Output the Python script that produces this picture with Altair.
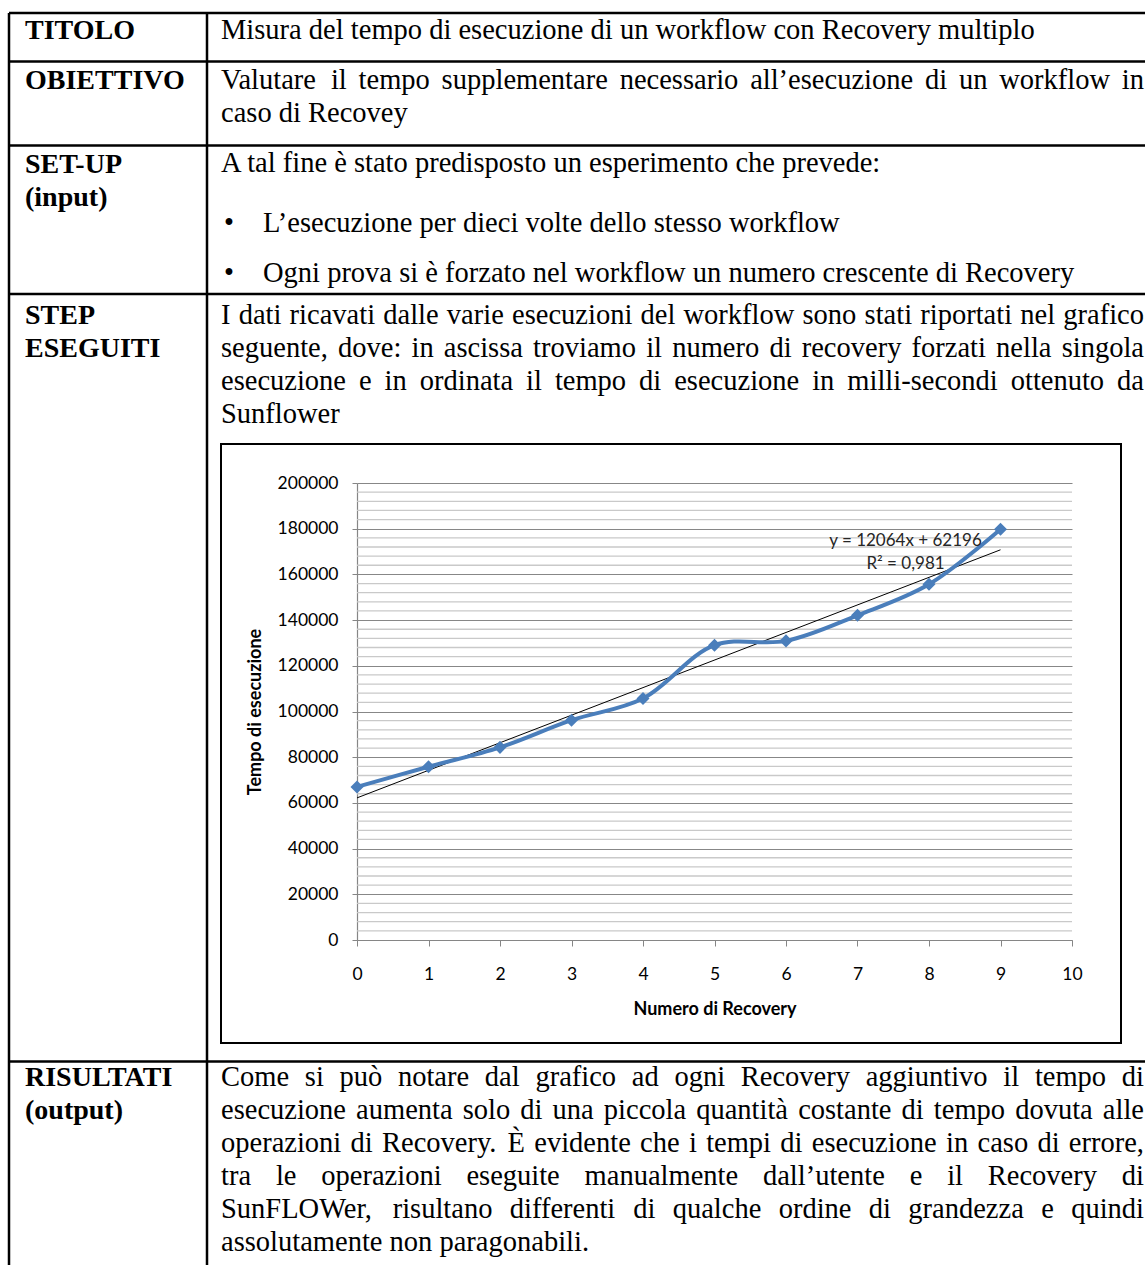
import altair as alt
import pandas as pd

# ---------------- chart values ----------------
recovery = list(range(10))
tempo_ms = [67000, 75800, 84300, 96200, 105700, 129000, 130900, 142100, 155700, 179800]
trend_slope = 12064
trend_intercept = 62196
trend_r2 = "0,981"
y_ticks = list(range(0, 200001, 20000))
y_minor = [v for v in range(0, 200001, 4000) if v % 20000]
x_ticks = list(range(0, 11))

x_title = "Numero di Recovery"
y_title = "Tempo di esecuzione"

# ---------------- document text ----------------
row_labels = ["TITOLO", "OBIETTIVO", "SET-UP", "(input)", "STEP", "ESEGUITI",
              "RISULTATI", "(output)"]
row_label_baselines = [39, 89, 173, 206, 324, 357, 1086, 1119]

titolo_text = "Misura del tempo di esecuzione di un workflow con Recovery multiplo"
obiettivo_lines = [
    ("Valutare il tempo supplementare necessario all\u2019esecuzione di un workflow in", True),
    ("caso di Recovey", False),
]
setup_intro = "A tal fine \u00e8 stato predisposto un esperimento che prevede:"
setup_bullets = [
    "L\u2019esecuzione per dieci volte dello stesso workflow",
    "Ogni prova si \u00e8 forzato nel workflow un numero crescente di Recovery",
]
step_lines = [
    ("I dati ricavati dalle varie esecuzioni del workflow sono stati riportati nel grafico", True),
    ("seguente, dove: in ascissa troviamo il numero di recovery forzati nella singola", True),
    ("esecuzione e in ordinata il tempo di esecuzione in milli-secondi ottenuto da", True),
    ("Sunflower", False),
]
risultati_lines = [
    ("Come si pu\u00f2 notare dal grafico ad ogni Recovery aggiuntivo il tempo di", True),
    ("esecuzione aumenta solo di una piccola quantit\u00e0 costante di tempo dovuta alle", True),
    ("operazioni di Recovery. \u00c8 evidente che i tempi di esecuzione in caso di errore,", True),
    ("tra le operazioni eseguite manualmente dall\u2019utente e il Recovery di", True),
    ("SunFLOWer, risultano differenti di qualche ordine di grandezza e quindi", True),
    ("assolutamente non paragonabili.", False),
]

# ---------------- page layout ----------------
PAGE_W, PAGE_H = 1145, 1265
OX, OY = 357, 483            # plot origin on the page
PW, PH = 715, 457            # plot area size
DOC_FONT = "Liberation Serif"
FS = 28.5
LABEL_X = 25
TEXT_L, TEXT_R = 221, 1144
BULLET_X, BULLET_TEXT_X = 224, 263

# Times advance widths (1/1000 em), used to spread justified lines
TIMES = {" ": 250, "a": 444, "b": 500, "c": 444, "d": 500, "e": 444, "f": 333, "g": 500,
         "h": 500, "i": 278, "j": 278, "k": 500, "l": 278, "m": 778, "n": 500, "o": 500,
         "p": 500, "q": 500, "r": 333, "s": 389, "t": 278, "u": 500, "v": 500, "w": 722,
         "x": 500, "y": 500, "z": 444, "A": 722, "B": 667, "C": 667, "D": 722, "E": 611,
         "F": 556, "G": 722, "H": 722, "I": 333, "J": 389, "K": 722, "L": 611, "M": 889,
         "N": 722, "O": 722, "P": 556, "Q": 722, "R": 667, "S": 556, "T": 611, "U": 722,
         "V": 722, "W": 944, "X": 722, "Y": 722, "Z": 611, ",": 250, ".": 250, ":": 278,
         "-": 333, "\u2019": 333, "\u00e0": 444, "\u00e8": 444, "\u00f2": 500, "\u00c8": 611}


def word_w(word):
    return sum(TIMES.get(c, 500) for c in word) / 1000 * FS


left_items, right_items = [], []


def put_line(text, baseline, justified):
    if not justified:
        left_items.append({"px": TEXT_L, "py": baseline, "t": text})
        return
    words = text.split(" ")
    total = sum(word_w(w) for w in words)
    gap = (TEXT_R - TEXT_L - total) / (len(words) - 1)
    x = TEXT_L
    for w in words[:-1]:
        left_items.append({"px": x, "py": baseline, "t": w})
        x += word_w(w) + gap
    right_items.append({"px": TEXT_R, "py": baseline, "t": words[-1]})


put_line(titolo_text, 39, False)
for (t, j), b in zip(obiettivo_lines, [89, 122]):
    put_line(t, b, j)
put_line(setup_intro, 172, False)
for t, b in zip(setup_bullets, [232, 282]):
    left_items.append({"px": BULLET_X, "py": b, "t": "\u2022"})
    left_items.append({"px": BULLET_TEXT_X, "py": b, "t": t})
for (t, j), b in zip(step_lines, [324, 357, 390, 423]):
    put_line(t, b, j)
for (t, j), b in zip(risultati_lines, [1086, 1119, 1152, 1185, 1218, 1251]):
    put_line(t, b, j)


def rel(items):
    df = pd.DataFrame(items)
    df["px"] = df["px"] - OX
    df["py"] = df["py"] - OY
    return df


labels_df = rel([{"px": LABEL_X, "py": b, "t": t}
                 for t, b in zip(row_labels, row_label_baselines)])
body_left_df = rel(left_items)
body_right_df = rel(right_items)

# table grid lines and chart frame (page coordinates)
rule_rows = [
    {"px": 9, "px2": PAGE_W, "py": 13, "py2": 13},
    {"px": 9, "px2": PAGE_W, "py": 61.5, "py2": 61.5},
    {"px": 9, "px2": PAGE_W, "py": 145.5, "py2": 145.5},
    {"px": 9, "px2": PAGE_W, "py": 294, "py2": 294},
    {"px": 9, "px2": PAGE_W, "py": 1061.5, "py2": 1061.5},
    {"px": 9, "px2": 9, "py": 13, "py2": PAGE_H},
    {"px": 207, "px2": 207, "py": 13, "py2": PAGE_H},
]
rules_df = pd.DataFrame(rule_rows)
rules_df[["px", "px2"]] -= OX
rules_df[["py", "py2"]] -= OY

frame_df = pd.DataFrame([{"px": 221 - OX, "px2": 1121 - OX, "py": 444 - OY, "py2": 1043 - OY}])

table = alt.Chart(rules_df).mark_rule(color="black", strokeWidth=2.5).encode(
    x=alt.X("px:Q", scale=None), x2="px2:Q",
    y=alt.Y("py:Q", scale=None), y2="py2:Q",
)
frame = alt.Chart(frame_df).mark_rect(fillOpacity=0, stroke="black", strokeWidth=2).encode(
    x=alt.X("px:Q", scale=None), x2="px2:Q",
    y=alt.Y("py:Q", scale=None), y2="py2:Q",
)

label_text = alt.Chart(labels_df).mark_text(
    font=DOC_FONT, fontSize=28, fontWeight="bold", align="left", baseline="alphabetic",
    color="black",
).encode(x=alt.X("px:Q", scale=None), y=alt.Y("py:Q", scale=None), text="t:N")

body_left = alt.Chart(body_left_df).mark_text(
    font=DOC_FONT, fontSize=FS, align="left", baseline="alphabetic", color="black",
).encode(x=alt.X("px:Q", scale=None), y=alt.Y("py:Q", scale=None), text="t:N")

body_right = alt.Chart(body_right_df).mark_text(
    font=DOC_FONT, fontSize=FS, align="right", baseline="alphabetic", color="black",
).encode(x=alt.X("px:Q", scale=None), y=alt.Y("py:Q", scale=None), text="t:N")

# ---------------- the chart ----------------
CH_FONT = "Lato"
xs = alt.Scale(domain=[0, 10], nice=False, zero=False)
ys = alt.Scale(domain=[0, 200000], nice=False)

data_df = pd.DataFrame({"recovery": recovery, "tempo": tempo_ms})
trend_df = pd.DataFrame({"recovery": [0, 9]})
trend_df["tempo"] = trend_slope * trend_df["recovery"] + trend_intercept
eq_df = trend_df.tail(1).copy()

x_axis = alt.Axis(values=x_ticks, format="d", title=x_title, grid=False, labelFlush=False,
                  labelFont=CH_FONT, labelFontSize=17.5, labelColor="black",
                  labelPadding=19, tickSize=6, tickColor="#868686",
                  domainColor="#868686", domainWidth=1.2,
                  titleFont=CH_FONT, titleFontSize=18, titleFontWeight="bold",
                  titleColor="black", titlePadding=18)
y_axis = alt.Axis(values=y_ticks, format="d", title=y_title, grid=True, labelFlush=False,
                  gridColor="#878787", gridWidth=1,
                  labelFont=CH_FONT, labelFontSize=17.5, labelColor="black",
                  labelPadding=14, tickSize=5, tickColor="#868686",
                  domainColor="#868686", domainWidth=1.2,
                  titleFont=CH_FONT, titleFontSize=18, titleFontWeight="bold",
                  titleColor="black", titlePadding=13)

# minor gridlines carry the y axis so it is defined on the first layer using y
minor_grid = alt.Chart(pd.DataFrame({"v": y_minor})).mark_rule(
    color="#c9c9c9", strokeWidth=1.3
).encode(y=alt.Y("v:Q", scale=ys, axis=y_axis), x=alt.value(0), x2=alt.value(PW))

series = alt.Chart(data_df).mark_line(
    interpolate="catmull-rom", color="#4A7EBB", strokeWidth=4
).encode(
    x=alt.X("recovery:Q", scale=xs, axis=x_axis),
    y=alt.Y("tempo:Q", scale=ys, axis=y_axis),
)

markers = alt.Chart(data_df).mark_point(
    shape="diamond", filled=True, size=170, color="#4A7EBB", opacity=1
).encode(x=alt.X("recovery:Q", scale=xs, axis=x_axis),
         y=alt.Y("tempo:Q", scale=ys, axis=y_axis))

trend = alt.Chart(trend_df).mark_line(color="black", strokeWidth=1).encode(
    x=alt.X("recovery:Q", scale=xs, axis=x_axis), y=alt.Y("tempo:Q", scale=ys, axis=y_axis)
)

equation = alt.Chart(eq_df).mark_text(
    font=CH_FONT, fontSize=17, align="center", baseline="middle",
    dx=-95, dy=-9, lineHeight=23, color="#262626",
).encode(
    x=alt.X("recovery:Q", scale=xs, axis=x_axis), y=alt.Y("tempo:Q", scale=ys, axis=y_axis),
    text=alt.value([f"y = {trend_slope}x + {trend_intercept}", f"R\u00b2 = {trend_r2}"]),
)

chart = alt.layer(
    table, frame, minor_grid, trend, series, markers, equation,
    label_text, body_left, body_right,
).properties(
    width=PW, height=PH,
    autosize=alt.AutoSizeParams(type="none"),
    padding={"left": OX, "top": OY, "right": PAGE_W - OX - PW, "bottom": PAGE_H - OY - PH},
    background="white",
).configure_view(strokeWidth=0)

chart.save("out.html", embed_options={"renderer": "svg", "actions": False})
